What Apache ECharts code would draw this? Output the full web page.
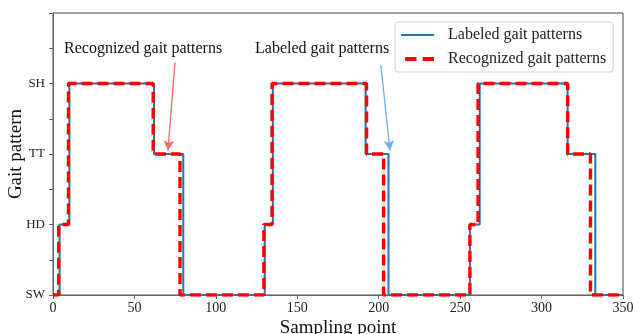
<!DOCTYPE html>
<html><head><meta charset="utf-8">
<script src="https://cdn.jsdelivr.net/npm/echarts@6/dist/echarts.min.js"></script>
<style>html,body{margin:0;padding:0;background:#fff}#c{width:633px;height:334px}</style>
</head><body><div id="c"></div>
<script>
// Gait levels
const levelNames = ['SW', 'HD', 'TT', 'SH'];
// Labeled gait patterns: change points (sampling point) and level index
const labeledX = [0, 4, 10, 62, 80, 130, 135, 192, 206, 256, 262, 316, 333, 350];
const labeledY = [0, 1, 3, 2, 0, 1, 3, 2, 0, 1, 3, 2, 0, 0];
// Recognized gait patterns
const recogX = [0, 3.5, 9.5, 61.5, 78, 129.5, 134.5, 192.5, 203, 256, 261, 316, 330, 350];
const recogY = [0, 1, 3, 2, 0, 1, 3, 2, 0, 1, 3, 2, 0, 0];
const xTicks = [0, 50, 100, 150, 200, 250, 300, 350];

const zip = (xs, ys) => xs.map((x, i) => [x, ys[i]]);
const font = '"Liberation Serif", "Times New Roman", serif';

const chart = echarts.init(document.getElementById('c'), null, {renderer: 'canvas'});
chart.setOption({
  animation: false,
  backgroundColor: '#fff',
  grid: {left: 53, right: 10, top: 13, bottom: 39, containLabel: false, outerBoundsMode: 'none',
    show: true, borderColor: '#444', borderWidth: 1, backgroundColor: 'transparent'},
  xAxis: {
    type: 'value', min: 0, max: 350, interval: 50,
    axisLine: {show: true, lineStyle: {color: '#666'}},
    axisTick: {show: true, inside: false, length: 4, lineStyle: {color: '#666'}},
    splitLine: {show: false},
    axisLabel: {color: '#222', fontFamily: font, fontSize: 14, margin: 6,
      formatter: v => xTicks.includes(v) ? String(v) : ''},
    name: 'Sampling point', nameLocation: 'middle', nameGap: 24, nameMoveOverlap: false,
    nameTextStyle: {color: '#111', fontFamily: font, fontSize: 19}
  },
  yAxis: {
    type: 'value', min: 0, max: 4, interval: 0.5,
    axisLine: {show: true, lineStyle: {color: '#666'}},
    axisTick: {show: true, inside: false, length: 4, lineStyle: {color: '#666'}},
    splitLine: {show: false},
    axisLabel: {color: '#222', fontFamily: font, fontSize: 13, margin: 8,
      formatter: v => (Number.isInteger(v) && v < levelNames.length) ? levelNames[v] : ''},
    name: 'Gait pattern', nameLocation: 'middle', nameGap: 27, nameMoveOverlap: false,
    nameTextStyle: {color: '#111', fontFamily: font, fontSize: 19}
  },
  legend: {
    show: true, left: 395, top: 22, orient: 'vertical', itemGap: 8,
    itemWidth: 33, itemHeight: 14,
    backgroundColor: '#fff', borderColor: '#d0d0d0', borderWidth: 1, borderRadius: 3,
    padding: [5, 7, 5, 6],
    textStyle: {fontFamily: font, fontSize: 16, color: '#222', padding: [0, 0, 0, 9]},
    data: [
      {name: 'Labeled gait patterns', icon: 'path://M0,6L33,6L33,8L0,8Z'},
      {name: 'Recognized gait patterns', icon: 'path://M4,5L15,5L15,9L4,9ZM21,5L32,5L32,9L21,9ZM0,7L0.01,7L0.01,7.01Z'}
    ]
  },
  series: [
    {
      name: 'Labeled gait patterns', type: 'line', step: 'end', showSymbol: false,
      data: zip(labeledX, labeledY), itemStyle: {color: '#1f77b4'},
      lineStyle: {color: '#1f77b4', width: 2}, z: 2,
      markLine: {
        silent: true, symbol: ['none', 'arrow'], symbolSize: [8, 10],
        lineStyle: {color: '#6aaff0', width: 1.3, type: 'solid'}, label: {show: false},
        data: [[{coord: [201.3, 3.26]}, {coord: [206.9, 2.05]}]]
      }
    },
    {
      name: 'Recognized gait patterns', type: 'line', step: 'end', showSymbol: false,
      data: zip(recogX, recogY), itemStyle: {color: '#ff0000'},
      lineStyle: {color: '#ff0000', width: 3.4, type: [11, 5]}, z: 3,
      markLine: {
        silent: true, symbol: ['none', 'arrow'], symbolSize: [8, 10],
        lineStyle: {color: '#f46a6a', width: 1.3, type: 'solid'}, label: {show: false},
        data: [[{coord: [74.9, 3.30]}, {coord: [70.6, 2.05]}]]
      }
    }
  ],
  graphic: [
    {type: 'text', left: 64, top: 41, style: {text: 'Recognized gait patterns', font: '16px ' + font, fill: '#111'}},
    {type: 'text', left: 255, top: 41, style: {text: 'Labeled gait patterns', font: '16px ' + font, fill: '#111'}}
  ]
});
</script></body></html>
